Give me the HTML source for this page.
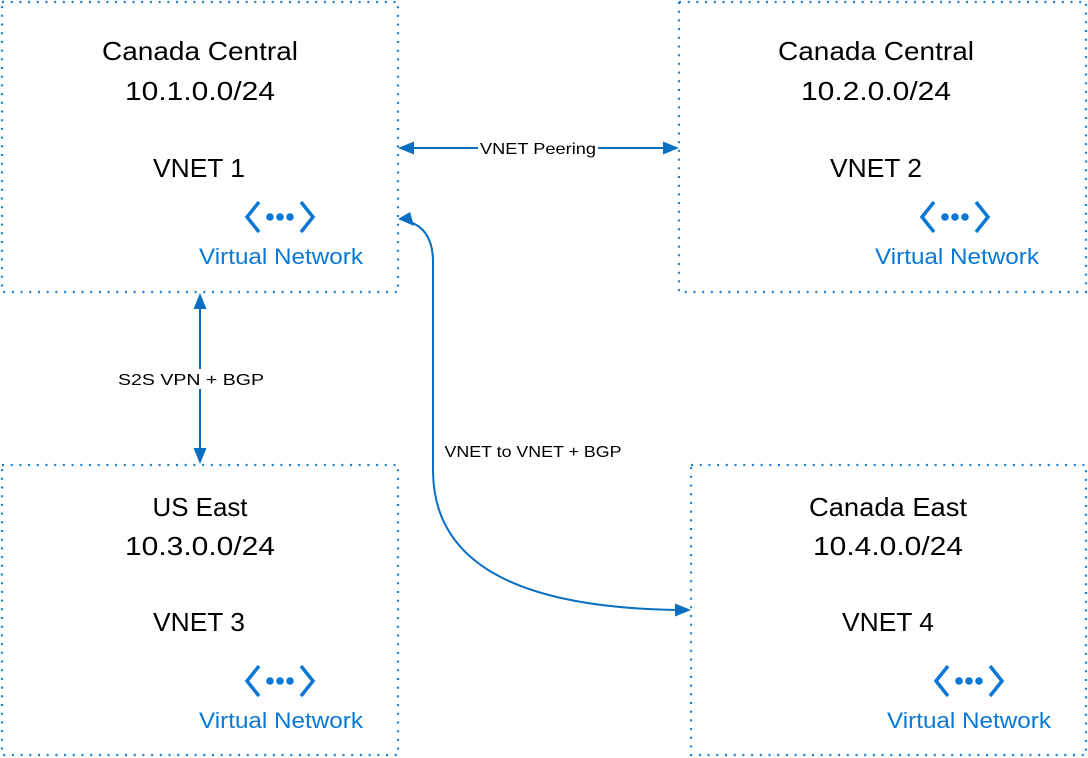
<!DOCTYPE html>
<html><head><meta charset="utf-8"><style>html,body{margin:0;padding:0;background:#fff}svg{display:block}</style></head>
<body>
<svg width="1088" height="758" viewBox="0 0 1088 758" xmlns="http://www.w3.org/2000/svg" font-family="Liberation Sans, sans-serif">
<defs>
<g id="ic">
<path d="M-21,-15 L-33,0 L-21,15 M21,-15 L33,0 L21,15" fill="none" stroke="#0a78d4" stroke-width="3.5"/>
<circle cx="-10" cy="0" r="3.8" fill="#0a78d4"/><circle cx="0" cy="0" r="3.8" fill="#0a78d4"/><circle cx="10" cy="0" r="3.8" fill="#0a78d4"/>
</g>
</defs>
<g fill="none" stroke="#1a7fd0" stroke-width="2.2" stroke-dasharray="2 6.7" stroke-linecap="butt">
<rect x="2" y="2" width="396" height="290"/>
<rect x="679" y="2" width="407" height="290"/>
<rect x="2" y="465" width="396" height="290"/>
<rect x="691" y="465" width="395" height="290"/>
</g>
<g font-size="26" fill="#000" text-anchor="middle">
<text x="200" y="60" textLength="196" lengthAdjust="spacingAndGlyphs">Canada Central</text>
<text x="200" y="100" textLength="150" lengthAdjust="spacingAndGlyphs">10.1.0.0/24</text>
<text x="199" y="177" textLength="92" lengthAdjust="spacingAndGlyphs">VNET 1</text>
<text x="876" y="60" textLength="196" lengthAdjust="spacingAndGlyphs">Canada Central</text>
<text x="876" y="100" textLength="150" lengthAdjust="spacingAndGlyphs">10.2.0.0/24</text>
<text x="876" y="177" textLength="92" lengthAdjust="spacingAndGlyphs">VNET 2</text>
<text x="200" y="516" textLength="95" lengthAdjust="spacingAndGlyphs">US East</text>
<text x="200" y="555" textLength="150" lengthAdjust="spacingAndGlyphs">10.3.0.0/24</text>
<text x="199" y="631" textLength="92" lengthAdjust="spacingAndGlyphs">VNET 3</text>
<text x="888" y="516" textLength="158" lengthAdjust="spacingAndGlyphs">Canada East</text>
<text x="888" y="555" textLength="150" lengthAdjust="spacingAndGlyphs">10.4.0.0/24</text>
<text x="888" y="631" textLength="92" lengthAdjust="spacingAndGlyphs">VNET 4</text>
</g>
<use href="#ic" x="280" y="217"/>
<use href="#ic" x="955" y="217"/>
<use href="#ic" x="280" y="681"/>
<use href="#ic" x="969" y="681"/>
<g font-size="22" fill="#0a78d4" text-anchor="middle">
<text x="281" y="264" textLength="164" lengthAdjust="spacingAndGlyphs">Virtual Network</text>
<text x="957" y="264" textLength="164" lengthAdjust="spacingAndGlyphs">Virtual Network</text>
<text x="281" y="728" textLength="164" lengthAdjust="spacingAndGlyphs">Virtual Network</text>
<text x="969" y="728" textLength="164" lengthAdjust="spacingAndGlyphs">Virtual Network</text>
</g>
<g fill="none" stroke="#0a6fc2" stroke-width="2">
<line x1="410" y1="148" x2="667" y2="148"/>
<line x1="200" y1="305" x2="200" y2="452"/>
<path d="M410,222 Q433,230 433,262 L433,470 C433,575 540,608 678,610"/>
</g>
<g fill="#0a6fc2">
<polygon points="398,148 414,141.5 414,154.5"/>
<polygon points="679,148 663,141.5 663,154.5"/>
<polygon points="200,293 193.5,309 206.5,309"/>
<polygon points="200,464 193.5,448 206.5,448"/>
<polygon points="398,219 410,212 414,226" />
<polygon points="691,610 675,603.5 675,616.5"/>
</g>
<rect x="478" y="138" width="120" height="20" fill="#fff"/>
<rect x="116" y="369" width="150" height="20" fill="#fff"/>
<g font-size="16" fill="#000" text-anchor="middle">
<text x="538" y="154" textLength="116" lengthAdjust="spacingAndGlyphs">VNET Peering</text>
<text x="191" y="385" textLength="146" lengthAdjust="spacingAndGlyphs">S2S VPN + BGP</text>
<text x="533" y="457" textLength="177" lengthAdjust="spacingAndGlyphs">VNET to VNET + BGP</text>
</g>
</svg>
</body></html>
